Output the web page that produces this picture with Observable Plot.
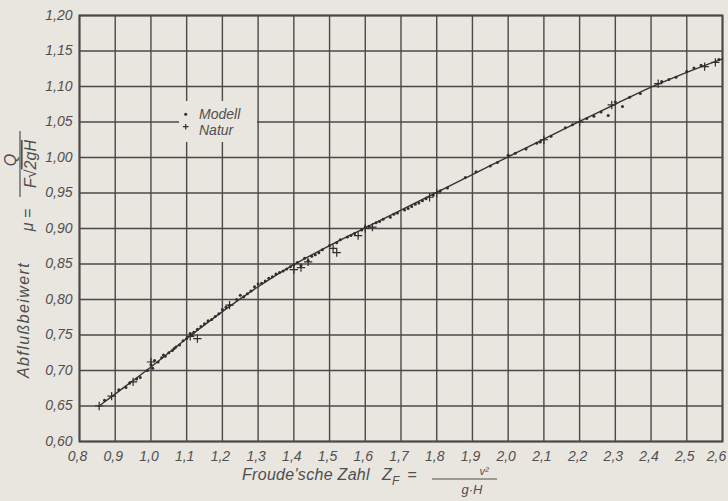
<!DOCTYPE html>
<html><head><meta charset="utf-8">
<script src="https://cdn.jsdelivr.net/npm/d3@7"></script>
<script src="https://cdn.jsdelivr.net/npm/@observablehq/plot@0.6"></script>
<style>
html,body{margin:0;padding:0;background:#e9e5df;}
#chart svg{display:block;}
</style></head><body><div id="chart"></div>
<script>
// Tick values
const xTicks = [0.8,0.9,1.0,1.1,1.2,1.3,1.4,1.5,1.6,1.7,1.8,1.9,2.0,2.1,2.2,2.3,2.4,2.5,2.6];
const yTicks = [0.60,0.65,0.70,0.75,0.80,0.85,0.90,0.95,1.00,1.05,1.10,1.15,1.20];

// Modell measurements (dots)
const modellX = [0.87,0.91,0.93,0.94,0.96,0.97,0.99,1.00,1.005,1.01,1.02,1.03,1.035,1.04,1.05,1.06,1.065,1.07,1.08,1.09,1.10,1.11,1.115,1.12,1.13,1.14,1.15,1.16,1.17,1.18,1.19,1.20,1.21,1.22,1.24,1.25,1.26,1.27,1.28,1.29,1.30,1.31,1.32,1.33,1.34,1.35,1.36,1.37,1.38,1.39,1.40,1.41,1.42,1.43,1.44,1.45,1.46,1.47,1.48,1.50,1.52,1.53,1.55,1.56,1.57,1.59,1.60,1.61,1.63,1.64,1.65,1.67,1.68,1.69,1.71,1.72,1.73,1.74,1.75,1.76,1.77,1.79,1.81,1.83,1.88,1.91,1.95,1.97,2.00,2.02,2.05,2.08,2.09,2.12,2.16,2.18,2.22,2.24,2.26,2.28,2.30,2.32,2.34,2.37,2.43,2.45,2.47,2.50,2.52,2.54,2.59];
const modellY = [0.658,0.673,0.676,0.682,0.688,0.690,0.700,0.708,0.703,0.714,0.712,0.718,0.722,0.720,0.725,0.728,0.731,0.733,0.736,0.742,0.745,0.752,0.750,0.754,0.758,0.762,0.766,0.770,0.772,0.776,0.780,0.786,0.789,0.792,0.800,0.806,0.804,0.808,0.812,0.818,0.822,0.823,0.826,0.830,0.832,0.836,0.838,0.840,0.843,0.846,0.849,0.852,0.848,0.858,0.855,0.861,0.863,0.866,0.870,0.876,0.880,0.884,0.888,0.890,0.893,0.898,0.902,0.903,0.908,0.910,0.913,0.916,0.920,0.922,0.926,0.928,0.931,0.934,0.936,0.939,0.942,0.947,0.953,0.957,0.972,0.980,0.988,0.993,1.003,1.006,1.012,1.020,1.022,1.030,1.042,1.046,1.055,1.058,1.064,1.059,1.078,1.072,1.085,1.090,1.107,1.110,1.113,1.121,1.126,1.130,1.138];

// Natur measurements (plus signs)
const naturX = [0.855,0.89,0.95,1.00,1.11,1.13,1.22,1.40,1.42,1.44,1.51,1.52,1.58,1.60,1.62,1.78,1.80,2.10,2.20,2.29,2.42,2.55,2.58];
const naturY = [0.650,0.664,0.684,0.712,0.748,0.745,0.792,0.842,0.845,0.853,0.872,0.866,0.890,0.900,0.902,0.944,0.950,1.025,1.050,1.074,1.104,1.128,1.134];

// Fitted curve
const fitX = [0.855,0.9,1.0,1.1,1.2,1.3,1.4,1.5,1.6,1.7,1.8,1.9,2.0,2.1,2.2,2.3,2.4,2.5,2.6];
const fitY = [0.650,0.667,0.705,0.745,0.783,0.818,0.849,0.876,0.901,0.926,0.951,0.976,1.001,1.026,1.051,1.075,1.099,1.120,1.139];

const modell = modellX.map((x, i) => ({x, y: modellY[i]}));
const natur = naturX.map((x, i) => ({x, y: naturY[i]}));
const fit = fitX.map((x, i) => ({x, y: fitY[i]}));

const fmtX = d => d.toFixed(1).replace(".", ",");
const fmtY = d => d.toFixed(2).replace(".", ",");
const ink = "#4a4a4a";
const dark = "#2e2e2e";
const paper = "#e9e5df";
const font = "'Liberation Sans', Arial, sans-serif";

const chart = Plot.plot({
  width: 728, height: 501,
  marginLeft: 79, marginRight: 6, marginTop: 15, marginBottom: 60,
  style: {background: "transparent", fontFamily: font, fontStyle: "italic", color: "#505050"},
  x: {domain: [0.8, 2.6]},
  y: {domain: [0.6, 1.2]},
  marks: [
    Plot.ruleX(xTicks, {stroke: ink, strokeWidth: 1.4}),
    Plot.ruleY(yTicks, {stroke: ink, strokeWidth: 1.4}),
    Plot.frame({stroke: ink, strokeWidth: 2}),
    Plot.axisX(xTicks.slice(0, -1), {tickSize: 0, tickPadding: 10, tickFormat: fmtX, fontSize: 14, dx: -2, label: null}),
    Plot.axisX(xTicks.slice(-1), {tickSize: 0, tickPadding: 10, tickFormat: fmtX, fontSize: 14, dx: -6, label: null}),
    Plot.axisY(yTicks, {tickSize: 0, tickPadding: 7, tickFormat: fmtY, fontSize: 14, label: null}),
    Plot.line(fit, {x: "x", y: "y", curve: "monotone-x", stroke: "#333", strokeWidth: 1.4}),
    Plot.dot(modell, {x: "x", y: "y", r: 1.5, fill: dark, stroke: "none"}),
    Plot.dot(natur, {x: "x", y: "y", symbol: "plus", r: 2.8, stroke: dark, strokeWidth: 1.2})
  ]
});
document.getElementById("chart").appendChild(chart);

const svg = d3.select(chart);
const txtColor = "#4f4f4f";

// Legend
const lg = svg.append("g").attr("font-family", font).attr("font-style", "italic").attr("fill", txtColor).attr("text-anchor", "start");
lg.append("rect").attr("x", 179).attr("y", 101).attr("width", 78).attr("height", 41).attr("fill", paper);
lg.append("circle").attr("cx", 185.7).attr("cy", 114.3).attr("r", 1.5).attr("fill", dark);
lg.append("path").attr("d", "M182.9,126.7H188.5M185.7,123.9V129.5").attr("stroke", dark).attr("stroke-width", 1.2).attr("fill", "none");
lg.append("text").attr("x", 199).attr("y", 119).attr("font-size", 14).text("Modell");
lg.append("text").attr("x", 199).attr("y", 135).attr("font-size", 14).text("Natur");

// Y axis label
const yl = svg.append("g").attr("font-family", font).attr("font-style", "italic").attr("fill", txtColor).attr("font-size", 16);
yl.append("text").attr("transform", "translate(29,320) rotate(-90)").attr("text-anchor", "middle").attr("letter-spacing", 1.4).text("Abflußbeiwert");
yl.append("text").attr("transform", "translate(33,220) rotate(-90)").attr("text-anchor", "middle").text("μ =");
yl.append("line").attr("x1", 20).attr("x2", 20).attr("y1", 131).attr("y2", 197).attr("stroke", txtColor).attr("stroke-width", 1.2);
yl.append("text").attr("transform", "translate(16,160) rotate(-90)").attr("text-anchor", "middle").text("Q");
const den = yl.append("text").attr("transform", "translate(36,164) rotate(-90)").attr("text-anchor", "middle");
den.append("tspan").text("F√");
den.append("tspan").attr("text-decoration", "overline").text("2gH");

// X axis label
const xl = svg.append("g").attr("font-family", font).attr("font-style", "italic").attr("fill", txtColor).attr("font-size", 16).attr("text-anchor", "start");
xl.append("text").attr("x", 242).attr("y", 480).attr("letter-spacing", 0.3).text("Froude'sche Zahl");
xl.append("text").attr("x", 382).attr("y", 480).text("Z");
xl.append("text").attr("x", 392).attr("y", 485).attr("font-size", 12).text("F");
xl.append("text").attr("x", 412).attr("y", 480).attr("text-anchor", "middle").text("=");
xl.append("line").attr("x1", 432).attr("x2", 497).attr("y1", 479).attr("y2", 479).attr("stroke", txtColor).attr("stroke-width", 1.2);
xl.append("text").attr("x", 484).attr("y", 475).attr("text-anchor", "middle").attr("font-size", 11).text("v²");
xl.append("text").attr("x", 472).attr("y", 494).attr("text-anchor", "middle").attr("font-size", 13).text("g·H");
</script>
</body></html>
